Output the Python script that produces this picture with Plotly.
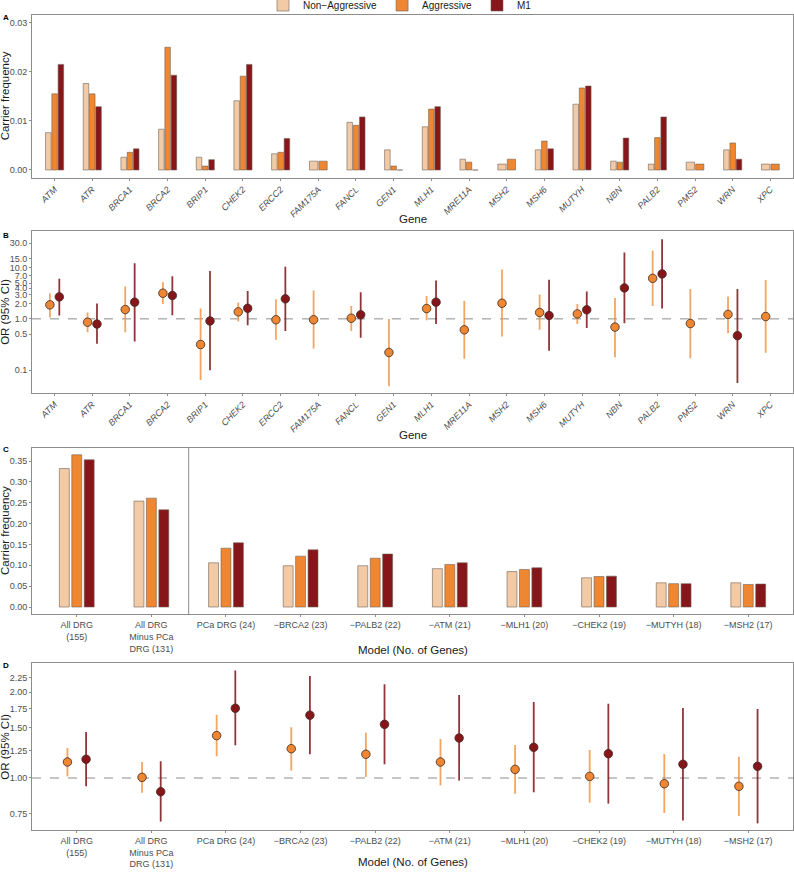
import math
import plotly.graph_objects as go

# ---------------- data ----------------
genes = ["ATM", "ATR", "BRCA1", "BRCA2", "BRIP1", "CHEK2", "ERCC2", "FAM175A", "FANCL", "GEN1",
         "MLH1", "MRE11A", "MSH2", "MSH6", "MUTYH", "NBN", "PALB2", "PMS2", "WRN", "XPC"]

freq_nonagg = [0.0076, 0.0176, 0.0026, 0.0083, 0.0026, 0.0141, 0.0033, 0.0018, 0.0097, 0.0041,
               0.0088, 0.0022, 0.0012, 0.0041, 0.0134, 0.0018, 0.0012, 0.0016, 0.0041, 0.0012]
freq_agg = [0.0155, 0.0155, 0.0036, 0.0250, 0.0008, 0.0191, 0.0036, 0.0018, 0.0091, 0.0008,
            0.0124, 0.0016, 0.0022, 0.0059, 0.0167, 0.0016, 0.0066, 0.0012, 0.0055, 0.0012]
freq_m1 = [0.0215, 0.0129, 0.0043, 0.0193, 0.0021, 0.0215, 0.0064, None, 0.0108, 0.0,
           0.0129, 0.0, None, 0.0043, 0.0171, 0.0065, 0.0108, None, 0.0022, None]

or_agg = [1.88, 0.86, 1.52, 3.17, 0.315, 1.37, 0.96, 0.96, 1.03, 0.22,
          1.59, 0.61, 2.02, 1.33, 1.25, 0.69, 6.2, 0.81, 1.22, 1.11]
or_agg_lo = [1.06, 0.55, 0.55, 1.96, 0.064, 0.89, 0.39, 0.263, 0.58, 0.048,
             0.94, 0.166, 0.45, 0.61, 0.79, 0.178, 1.79, 0.17, 0.525, 0.217]
or_agg_hi = [3.17, 1.33, 4.28, 5.2, 1.59, 2.08, 2.42, 3.58, 1.79, 0.99,
             2.81, 2.25, 9.2, 2.99, 1.96, 2.57, 21.6, 3.85, 2.73, 5.78]
or_m1 = [2.69, 0.79, 2.12, 2.86, 0.91, 1.61, 2.46, None, 1.20, None,
         2.12, None, None, 1.16, 1.5, 4.03, 7.57, None, 0.47, None]
or_m1_lo = [1.16, 0.325, 0.36, 1.18, 0.099, 0.75, 0.58, None, 0.425, None,
            0.79, None, None, 0.237, 0.66, 0.82, 1.59, None, 0.056, None]
or_m1_hi = [6.05, 2.0, 12.2, 6.8, 8.66, 3.52, 10.4, None, 3.32, None,
            5.6, None, None, 5.8, 3.42, 19.8, 36.0, None, 3.85, None]

models = ["All DRG<br>(155)", "All DRG<br>Minus PCa<br>DRG (131)", "PCa DRG (24)", "−BRCA2 (23)",
          "−PALB2 (22)", "−ATM (21)", "−MLH1 (20)", "−CHEK2 (19)", "−MUTYH (18)", "−MSH2 (17)"]
cf_nonagg = [0.332, 0.254, 0.106, 0.099, 0.099, 0.092, 0.085, 0.070, 0.058, 0.058]
cf_agg = [0.365, 0.261, 0.141, 0.122, 0.117, 0.102, 0.090, 0.073, 0.056, 0.054]
cf_m1 = [0.353, 0.233, 0.154, 0.137, 0.127, 0.106, 0.094, 0.074, 0.056, 0.055]

ormod_agg = [1.138, 1.005, 1.408, 1.267, 1.211, 1.138, 1.072, 1.013, 0.955, 0.935]
ormod_agg_lo = [1.013, 0.888, 1.191, 1.061, 1.008, 0.942, 0.881, 0.819, 0.754, 0.736]
ormod_agg_hi = [1.274, 1.138, 1.668, 1.506, 1.442, 1.37, 1.305, 1.254, 1.214, 1.188]
ormod_m1 = [1.163, 0.895, 1.756, 1.66, 1.542, 1.381, 1.281, 1.217, 1.117, 1.099]
ormod_m1_lo = [0.935, 0.703, 1.302, 1.211, 1.117, 0.979, 0.891, 0.813, 0.710, 0.693]
ormod_m1_hi = [1.45, 1.144, 2.38, 2.28, 2.13, 1.955, 1.848, 1.82, 1.761, 1.746]

series_names = ["Non−Aggressive", "Aggressive", "M1"]
or_ticks_b = [0.1, 0.5, 1.0, 2.0, 3.0, 4.0, 5.0, 7.0, 10.0, 15.0, 30.0]
or_ticks_d = [0.75, 1.00, 1.25, 1.50, 1.75, 2.00, 2.25]

# ---------------- style ----------------
W, H = 794, 873
ML, MR, MT, MB = 32, 1, 15, 43
PW, PH = W - ML - MR, H - MT - MB
FILL = ["#F2CAA6", "#EF8631", "#87161B"]
EDGE = "rgba(110,95,85,0.65)"
ERR = ["rgba(240,140,55,0.78)", "rgba(125,18,24,0.85)"]
FRAME = "#8c8c8c"
TICKC = "#4d4d4d"
FONT = "Liberation Sans, Arial, Helvetica, sans-serif"
DODGE = 0.5


def py(p):
    return 1 - (p - MT) / PH


def px(p):
    return (p - ML) / PW


def ydom(top, bot):
    return [py(bot), py(top)]


fig = go.Figure()


# ---- grouped bars, dodged over the series present in each category ----
def dodge_bars(values_by_series, xref, yref, bar_frac, legend):
    n_cat = len(values_by_series[0])
    xs = [[] for _ in values_by_series]
    ys = [[] for _ in values_by_series]
    ws = [[] for _ in values_by_series]
    for i in range(n_cat):
        present = [k for k, vals in enumerate(values_by_series) if vals[i] is not None]
        slot = DODGE / len(present)
        for j, k in enumerate(present):
            xs[k].append(i - DODGE / 2 + slot * (j + 0.5))
            ys[k].append(values_by_series[k][i])
            ws[k].append(slot * bar_frac)
    for k in range(len(values_by_series)):
        fig.add_trace(go.Bar(
            x=xs[k], y=ys[k], width=ws[k], name=series_names[k],
            marker=dict(color=FILL[k], line=dict(color=EDGE, width=0.9)),
            xaxis=xref, yaxis=yref, showlegend=legend, legendgroup=series_names[k]))


dodge_bars([freq_nonagg, freq_agg, freq_m1], "x", "y", 0.88, True)
dodge_bars([cf_nonagg, cf_agg, cf_m1], "x3", "y3", 0.8, False)


# ---- OR panels ----
def or_points(est, lo, hi, xref, yref, k, offset):
    xs, ys, up, dn = [], [], [], []
    for i, v in enumerate(est):
        if v is None:
            continue
        xs.append(i + offset)
        ys.append(v)
        up.append(hi[i] - v)
        dn.append(v - lo[i])
    fig.add_trace(go.Scatter(
        x=xs, y=ys, mode="markers", xaxis=xref, yaxis=yref, showlegend=False,
        marker=dict(size=8.5, color=FILL[k], line=dict(color="#3b2a22", width=0.8)),
        error_y=dict(type="data", symmetric=False, array=up, arrayminus=dn,
                     color=ERR[k - 1], thickness=1.8, width=0)))


or_points(or_agg, or_agg_lo, or_agg_hi, "x2", "y2", 1, -DODGE / 4)
or_points(or_m1, or_m1_lo, or_m1_hi, "x2", "y2", 2, DODGE / 4)
or_points(ormod_agg, ormod_agg_lo, ormod_agg_hi, "x4", "y4", 1, -DODGE / 4)
or_points(ormod_m1, ormod_m1_lo, ormod_m1_hi, "x4", "y4", 2, DODGE / 4)

tickfont = dict(family=FONT, size=9, color=TICKC)
common = dict(showline=True, mirror=True, linecolor=FRAME, linewidth=1, showgrid=False,
              zeroline=False, ticks="outside", ticklen=2, tickcolor=FRAME, tickfont=tickfont)

gene_ticks = ["<i>%s</i>" % g for g in genes]
nG, nM = len(genes), len(models)

fig.update_layout(
    width=W, height=H,
    margin=dict(l=ML, r=MR, t=MT, b=MB, autoexpand=False),
    plot_bgcolor="white", paper_bgcolor="white",
    barmode="overlay",
    font=dict(family=FONT, color="#1a1a1a"),
    xaxis=dict(domain=[0, 1], anchor="y", range=[-0.6, nG - 0.4], tickvals=list(range(nG)),
               ticktext=gene_ticks, tickangle=-45, **common),
    yaxis=dict(domain=ydom(15, 177.7), anchor="x", range=[-0.00157, 0.03156],
               tick0=0, dtick=0.01, tickformat=".2f", **common),
    xaxis2=dict(domain=[0, 1], anchor="y2", range=[-0.6, nG - 0.4], tickvals=list(range(nG)),
                ticktext=gene_ticks, tickangle=-45, **common),
    yaxis2=dict(domain=ydom(231, 392.7), anchor="x2", type="log",
                range=[math.log10(0.036), math.log10(52.2)],
                tickvals=or_ticks_b, ticktext=["%.1f" % t for t in or_ticks_b], **common),
    xaxis3=dict(domain=[0, 1], anchor="y3", range=[-0.6, nM - 0.4], tickvals=list(range(nM)),
                ticktext=models, tickangle=0, **common),
    yaxis3=dict(domain=ydom(447.7, 614.3), anchor="x3", range=[-0.0175, 0.382],
                tick0=0, dtick=0.05, tickformat=".2f", **common),
    xaxis4=dict(domain=[0, 1], anchor="y4", range=[-0.6, nM - 0.4], tickvals=list(range(nM)),
                ticktext=models, tickangle=0, **common),
    yaxis4=dict(domain=ydom(663.3, 830), anchor="x4", type="log",
                range=[math.log10(0.657), math.log10(2.525)],
                tickvals=or_ticks_d, ticktext=["%.2f" % t for t in or_ticks_d], **common),
    legend=dict(orientation="h", x=px(400), xanchor="center", y=py(5), yanchor="middle",
                font=dict(family=FONT, size=10, color="#1a1a1a"), itemwidth=30,
                tracegroupgap=0, bgcolor="rgba(0,0,0,0)"),
)

# reference lines
for yr, xr in (("y2", "x2"), ("y4", "x4")):
    fig.add_shape(type="line", xref=xr + " domain", x0=0, x1=1, yref=yr, y0=1, y1=1,
                  line=dict(color="#8c8c8c", width=1, dash="dash"), layer="below")
fig.add_shape(type="line", xref="x3", x0=1.5, x1=1.5, yref="y3 domain", y0=0, y1=1,
              line=dict(color=FRAME, width=1))

# axis titles & panel letters
title_font = dict(family=FONT, size=11.5, color="#1a1a1a")
ann = []
for text, ypx in (("Gene", 219), ("Gene", 435), ("Model (No. of Genes)", 650),
                  ("Model (No. of Genes)", 862)):
    ann.append(dict(text=text, x=0.5, y=py(ypx), xref="paper", yref="paper",
                    showarrow=False, font=title_font, xanchor="center", yanchor="middle"))
for text, top, bot in (("Carrier frequency", 15, 177.7), ("OR (95% CI)", 231, 392.7),
                       ("Carrier frequency", 447.7, 614.3), ("OR (95% CI)", 663.3, 830)):
    ann.append(dict(text=text, x=px(5), y=py((top + bot) / 2), xref="paper", yref="paper",
                    showarrow=False, font=title_font, textangle=-90,
                    xanchor="center", yanchor="middle"))
for text, ypx in (("A", 18), ("B", 235), ("C", 449), ("D", 665)):
    ann.append(dict(text="<b>%s</b>" % text, x=px(1), y=py(ypx), xref="paper", yref="paper",
                    showarrow=False, font=dict(family=FONT, size=8, color="black"),
                    xanchor="left", yanchor="middle"))
fig.update_layout(annotations=ann)

fig.write_html("out.html", config={"displayModeBar": False},
               post_script="document.body.style.margin='0px';document.body.style.overflow='hidden';")
